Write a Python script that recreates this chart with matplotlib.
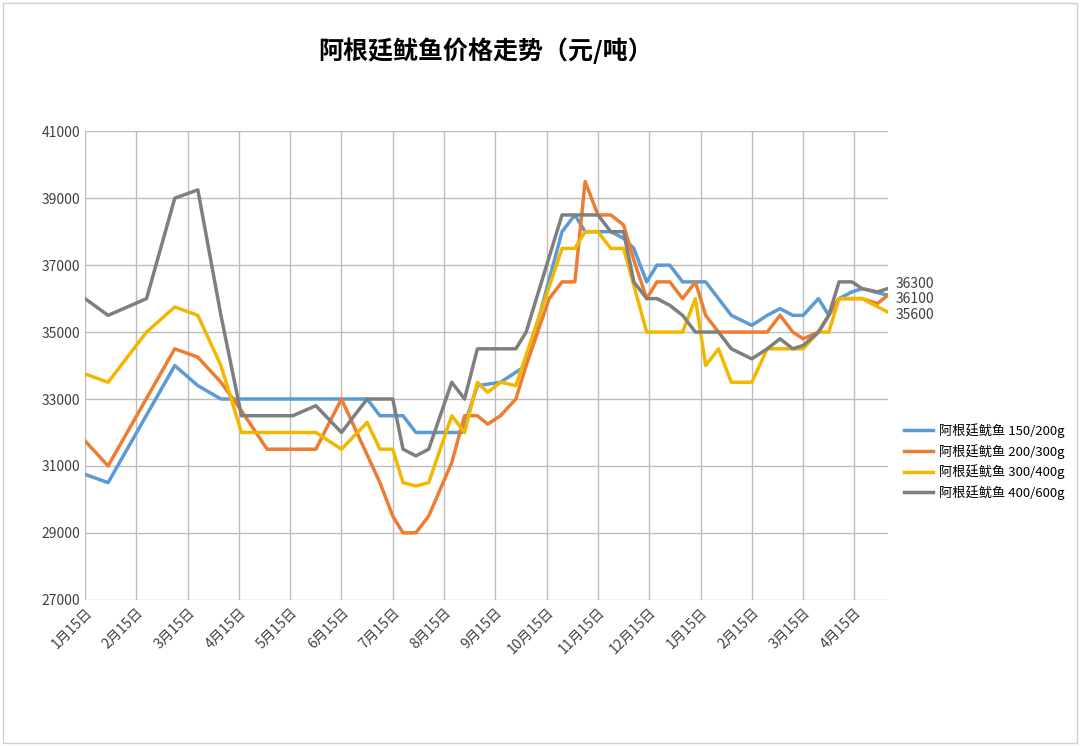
import matplotlib.pyplot as plt
from matplotlib.patches import Rectangle

plt.rcParams['font.family'] = ['Noto Sans CJK SC', 'DejaVu Sans']

tick_labels = [f'{m}月15日' for m in list(range(1, 13)) + [1, 2, 3, 4]]

# x = months after the first "1月15日"
x_150 = [0, 0.45, 1.75, 2.2, 2.65, 5.5, 5.75, 6.2, 6.45, 7.35, 7.65, 8.1, 8.4, 8.6, 9.3, 9.55, 9.75,
         10.25, 10.5, 10.7, 10.95, 11.15, 11.4, 11.65, 12.1, 12.35, 12.6, 13.0, 13.3, 13.55, 13.8,
         14.0, 14.3, 14.5, 14.7, 14.95, 15.15, 15.65]
y_150 = [30750, 30500, 34000, 33400, 33000, 33000, 32500, 32500, 32000, 32000, 33400, 33500, 33800,
         34000, 38000, 38500, 38000, 38000, 37800, 37500, 36500, 37000, 37000, 36500, 36500, 36000,
         35500, 35200, 35500, 35700, 35500, 35500, 36000, 35500, 36000, 36200, 36300, 36100]

x_200 = [0, 0.45, 1.75, 2.2, 2.65, 3.05, 3.55, 4.5, 5.0, 5.75, 6.0, 6.2, 6.45, 6.7, 7.15, 7.4, 7.65,
         7.85, 8.1, 8.4, 8.6, 9.05, 9.3, 9.55, 9.75, 10.0, 10.25, 10.5, 10.7, 10.95, 11.15, 11.4,
         11.65, 11.9, 12.1, 12.35, 13.3, 13.55, 13.8, 14.0, 14.3, 14.7, 15.15, 15.45, 15.65]
y_200 = [31750, 31000, 34500, 34250, 33500, 32650, 31500, 31500, 33000, 30500, 29500, 29000, 29000,
         29500, 31100, 32500, 32500, 32250, 32500, 33000, 34000, 36000, 36500, 36500, 39500, 38500,
         38500, 38200, 37150, 36000, 36500, 36500, 36000, 36500, 35500, 35000, 35000, 35500, 35000,
         34800, 35000, 36000, 36000, 35850, 36100]

x_300 = [0, 0.45, 1.2, 1.75, 2.2, 2.65, 3.05, 4.5, 5.0, 5.5, 5.75, 6.0, 6.2, 6.45, 6.7, 7.15, 7.4,
         7.65, 7.85, 8.1, 8.4, 9.3, 9.55, 9.75, 10.0, 10.25, 10.5, 10.95, 11.65, 11.9, 12.1, 12.35,
         12.6, 13.0, 13.3, 13.8, 14.0, 14.3, 14.5, 14.7, 15.15, 15.65]
y_300 = [33750, 33500, 35000, 35750, 35500, 34000, 32000, 32000, 31500, 32300, 31500, 31500, 30500,
         30400, 30500, 32500, 32000, 33500, 33200, 33500, 33400, 37500, 37500, 38000, 38000, 37500,
         37500, 35000, 35000, 36000, 34000, 34500, 33500, 33500, 34500, 34500, 34500, 35000, 35000,
         36000, 36000, 35600]

x_400 = [0, 0.45, 1.2, 1.75, 2.2, 2.65, 3.05, 4.05, 4.5, 5.0, 5.5, 6.0, 6.2, 6.45, 6.7, 7.15, 7.4,
         7.65, 8.4, 8.6, 9.3, 10.0, 10.25, 10.5, 10.7, 10.95, 11.15, 11.4, 11.65, 11.9, 12.35, 12.6,
         13.0, 13.3, 13.55, 13.8, 14.0, 14.3, 14.5, 14.7, 14.95, 15.15, 15.45, 15.65]
y_400 = [36000, 35500, 36000, 39000, 39250, 35500, 32500, 32500, 32800, 32000, 33000, 33000, 31500,
         31300, 31500, 33500, 33000, 34500, 34500, 35000, 38500, 38500, 38000, 38000, 36500, 36000,
         36000, 35800, 35500, 35000, 35000, 34500, 34200, 34500, 34800, 34500, 34600, 35000, 35500,
         36500, 36500, 36300, 36200, 36300]

end_labels = ['36300', '36100', '35600']

series = [
    ('阿根廷鱿鱼 150/200g', x_150, y_150, '#5B9BD5'),
    ('阿根廷鱿鱼 200/300g', x_200, y_200, '#ED7D31'),
    ('阿根廷鱿鱼 300/400g', x_300, y_300, '#F2B800'),
    ('阿根廷鱿鱼 400/600g', x_400, y_400, '#7F7F7F'),
]

fig = plt.figure(figsize=(10.8, 7.46), dpi=100)
fig.patches.append(Rectangle((0.003, 0.004), 0.994, 0.992, transform=fig.transFigure,
                             fill=False, edgecolor='#d0d0d0', linewidth=1))
ax = fig.add_axes([0.0787, 0.196, 0.7433, 0.628])

for name, xs, ys, c in series:
    ax.plot(xs, ys, color=c, linewidth=2.5, label=name)

ax.set_xlim(0, 15.65)
ax.set_ylim(27000, 41000)
ax.set_yticks(range(27000, 41001, 2000))
ax.set_xticks(range(16))
ax.set_xticklabels(tick_labels, rotation=45, ha='right', rotation_mode='anchor', fontsize=10, color='#404040')
ax.tick_params(axis='y', labelsize=10, colors='#404040', length=0)
ax.tick_params(axis='x', length=0, pad=4)
ax.grid(True, color='#bdbdbd', linewidth=1)
for s in ax.spines.values():
    s.set_visible(False)

# end value labels, spread a little so they don't overlap
for txt, yy in zip(end_labels, [36450, 36000, 35500]):
    ax.annotate(txt, (15.65, yy), xytext=(6, 0), textcoords='offset points', va='center',
                fontsize=10, color='#404040', annotation_clip=False)

fig.suptitle('阿根廷鱿鱼价格走势（元/吨）', x=0.45, y=0.95, fontsize=18, fontweight='bold')
ax.legend(loc='center left', bbox_to_anchor=(1.005, 0.295), frameon=False, fontsize=9.5,
          handlelength=2.2, labelspacing=0.45, handletextpad=0.5)

fig.savefig('out.png', dpi=100)
